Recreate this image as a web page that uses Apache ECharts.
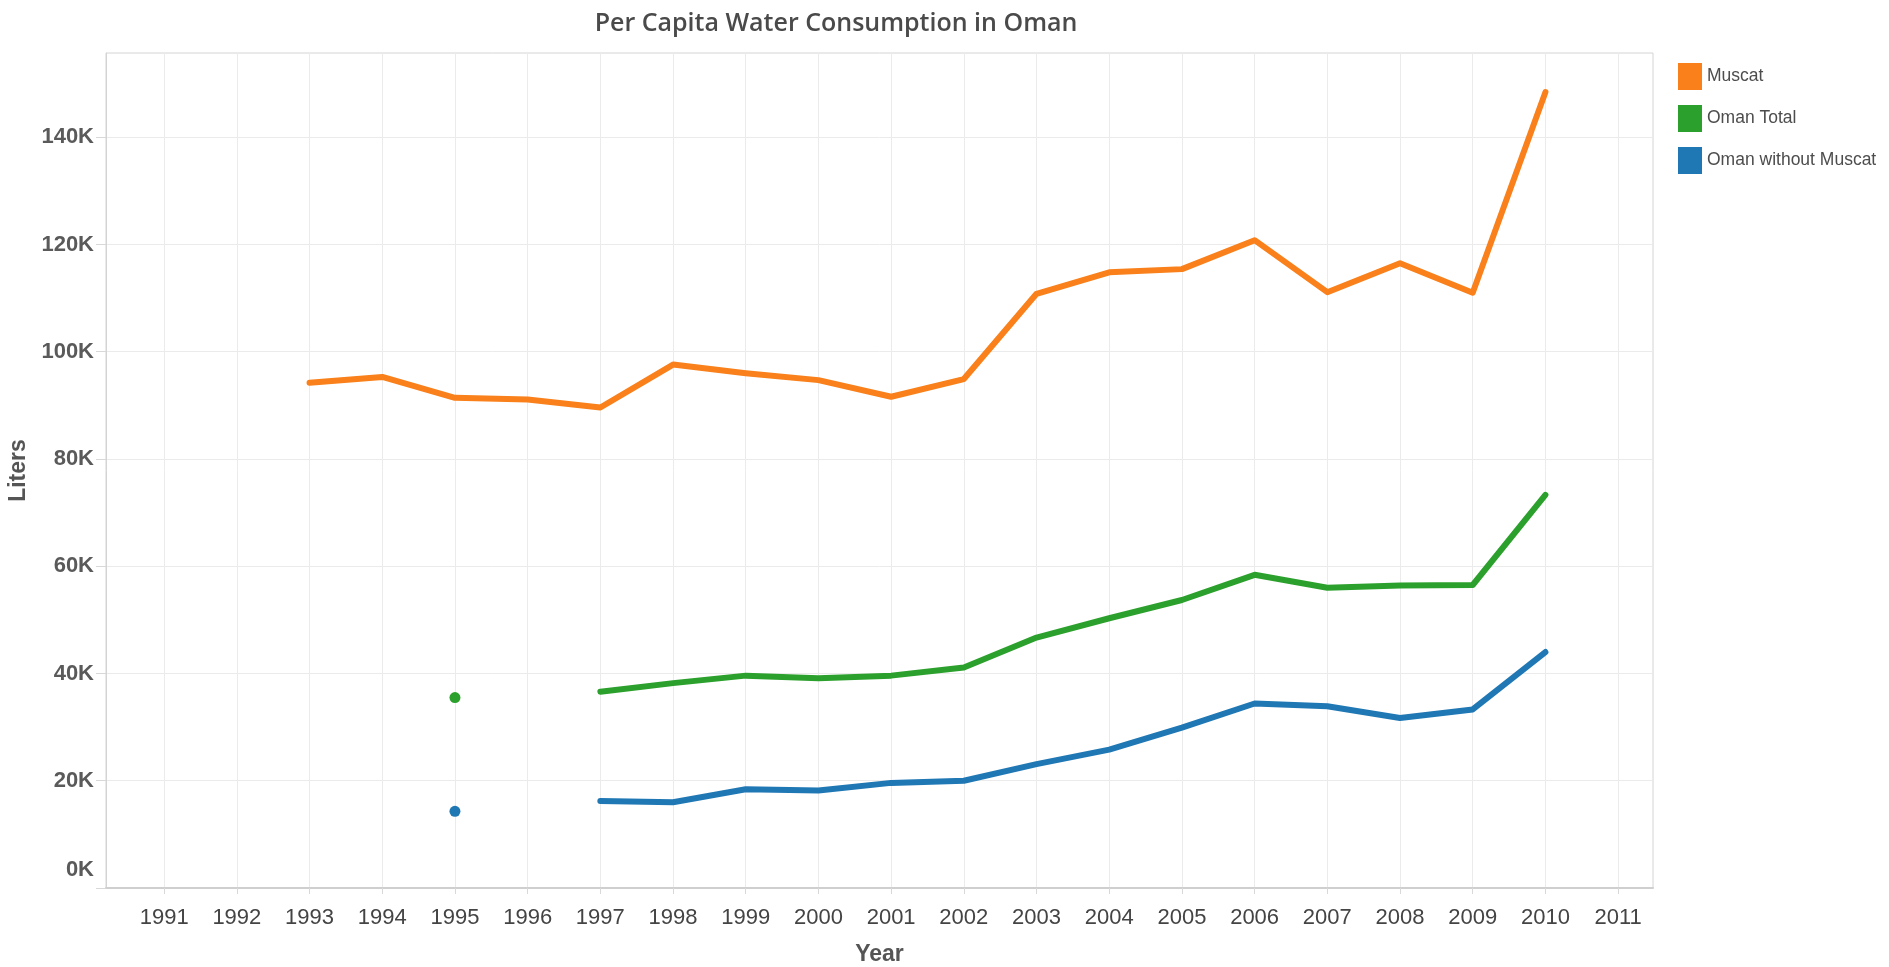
<!DOCTYPE html>
<html>
<head>
<meta charset="utf-8">
<title>Per Capita Water Consumption in Oman</title>
<script src="https://cdn.jsdelivr.net/npm/echarts@6/dist/echarts.min.js"></script>
<style>
  html, body { margin: 0; padding: 0; background: #fff; }
  #main { width: 1889px; height: 967px; }
</style>
</head>
<body>
<div id="main"></div>
<script>
// years on the axis
const years = [1991, 1992, 1993, 1994, 1995, 1996, 1997, 1998, 1999, 2000,
  2001, 2002, 2003, 2004, 2005, 2006, 2007, 2008, 2009, 2010, 2011];
const yTicks = [0, 20000, 40000, 60000, 80000, 100000, 120000, 140000];

// liters per capita, null = no data
const muscat = [null, null, 94200, 95300, 91400, 91100, 89600, 97600, 96000, 94700,
  91600, 94900, 110800, 114800, 115400, 120800, 111100, 116500, 111000, 148400, null];
const omanTotal = [null, null, null, null, 35500, null, 36600, 38200, 39600, 39100,
  39600, 41100, 46700, 50300, 53700, 58400, 56000, 56400, 56500, 73300, null];
const omanWithout = [null, null, null, null, 14300, null, 16200, 16000, 18400, 18200,
  19600, 20000, 23100, 25800, 29900, 34400, 33900, 31700, 33300, 44000, null];

const seriesNames = ["Muscat", "Oman Total", "Oman without Muscat"];
const colors = ["#f9801a", "#2ca02c", "#1f77b4"];

const chart = echarts.init(document.getElementById("main"));

function pairs(arr) {
  return years.map((y, i) => [y, arr[i]]);
}

// a point with no neighbours is shown as a dot, like tableau does
function lonely(arr) {
  return (val, params) => {
    const i = params.dataIndex;
    if (arr[i] == null) return 0;
    const prev = i > 0 ? arr[i - 1] : null;
    const next = i < arr.length - 1 ? arr[i + 1] : null;
    return prev == null && next == null ? 11 : 0;
  };
}

const sans = "'Liberation Sans', Arial, sans-serif";

chart.setOption({
  animation: false,
  title: {
    text: "Per Capita Water Consumption in Oman",
    left: 831,
    textAlign: "center",
    top: 6,
    textStyle: {
      fontFamily: "'Open Sans', sans-serif",
      fontSize: 25,
      fontWeight: 600,
      color: "#4a4a4a",
    },
  },
  legend: {
    orient: "vertical",
    left: 1673,
    top: 58,
    itemWidth: 24,
    itemHeight: 27,
    itemGap: 15,
    icon: "rect",
    data: seriesNames,
    textStyle: { fontFamily: sans, fontSize: 17.5, color: "#4d4d4d" },
  },
  grid: {
    left: 106,
    top: 53,
    width: 1547,
    height: 835,
    show: true,
    borderColor: "#d4d4d4",
    borderWidth: 1,
    containLabel: false,
    outerBoundsMode: "none",
  },
  xAxis: {
    type: "value",
    min: 1990.2,
    max: 2011.48,
    name: "Year",
    nameLocation: "middle",
    nameGap: 55,
    nameTextStyle: { fontFamily: sans, fontSize: 23, fontWeight: "bold", color: "#555" },
    axisLine: { show: true, lineStyle: { color: "#cfcfcf", width: 2 } },
    axisTick: { show: true, customValues: years, length: 6, lineStyle: { color: "#d8d8d8" } },
    axisLabel: {
      customValues: years,
      formatter: (v) => String(v),
      fontFamily: sans,
      fontSize: 22,
      color: "#444",
      margin: 19,
    },
    splitLine: { show: true, lineStyle: { color: "#ebebeb", width: 1 } },
  },
  yAxis: {
    type: "value",
    min: 0,
    max: 155700,
    name: "Liters",
    nameLocation: "middle",
    nameGap: 64,
    nameRotate: 90,
    nameTextStyle: { fontFamily: sans, fontSize: 23, fontWeight: "bold", color: "#555" },
    axisLine: { show: true, lineStyle: { color: "#d4d4d4" } },
    axisTick: { show: true, customValues: yTicks, length: 10, lineStyle: { color: "#d8d8d8" } },
    axisLabel: {
      customValues: yTicks,
      // bottom label sits a bit above the axis line, as in tableau
      formatter: (v) => (v === 0 ? "{low|0K}" : v / 1000 + "K"),
      rich: {
        low: {
          fontFamily: sans,
          fontSize: 22,
          fontWeight: "bold",
          color: "#5a5a5a",
          padding: [0, 0, 36, 0],
        },
      },
      fontFamily: sans,
      fontSize: 22,
      fontWeight: "bold",
      color: "#5a5a5a",
      margin: 12,
    },
    splitLine: { show: true, lineStyle: { color: "#ebebeb", width: 1 } },
  },
  series: [muscat, omanTotal, omanWithout].map((arr, k) => ({
    name: seriesNames[k],
    type: "line",
    data: pairs(arr),
    connectNulls: false,
    showSymbol: true,
    symbol: "circle",
    symbolSize: lonely(arr),
    color: colors[k],
    lineStyle: { width: 6, color: colors[k], cap: "round", join: "round" },
    itemStyle: { color: colors[k] },
    emphasis: { disabled: true },
  })),
});
</script>
</body>
</html>
